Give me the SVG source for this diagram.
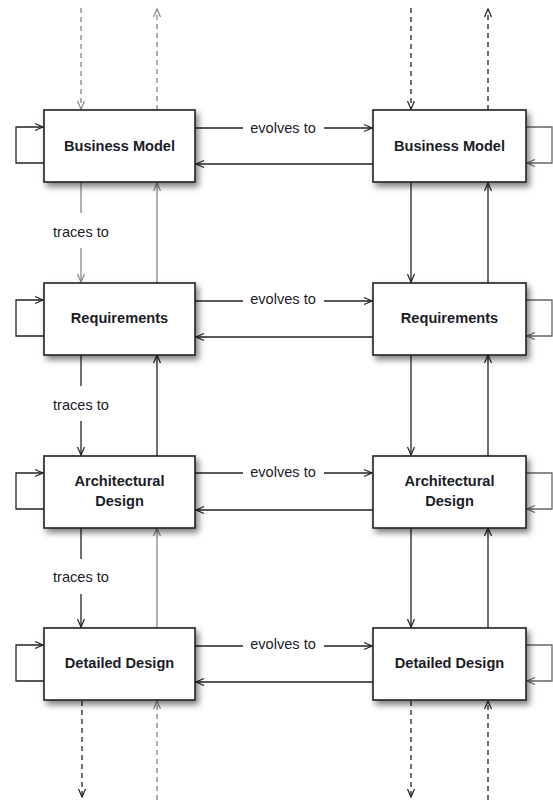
<svg xmlns="http://www.w3.org/2000/svg" width="553" height="800" viewBox="0 0 553 800">
  <style>
    .box { fill: #ffffff; stroke: #222222; stroke-width: 1.6; filter: url(#shadow); }
    .lbl { font-family: "Liberation Sans", Arial, sans-serif; font-size: 14.6px; font-weight: bold; fill: #1c1c28; text-anchor: middle; }
    .edge-lbl { font-family: "Liberation Sans", Arial, sans-serif; font-size: 14.6px; fill: #1c1c28; text-anchor: middle; }
    .dk { fill: none; stroke: #222222; stroke-width: 1.3; marker-end: url(#arrDk); }
    .gr { fill: none; stroke: #888888; stroke-width: 1.3; marker-end: url(#arrGr); }
    .md { fill: none; stroke: #666666; stroke-width: 1.3; marker-end: url(#arrMd); }
    .dkn { fill: none; stroke: #222222; stroke-width: 1.3; }
    .grn { fill: none; stroke: #888888; stroke-width: 1.3; }
    .dash { stroke-dasharray: 5 4; }
  </style>
  <defs>
    <filter id="shadow" x="-10%" y="-15%" width="125%" height="140%">
      <feDropShadow dx="3" dy="4" stdDeviation="3" flood-color="#000000" flood-opacity="0.5"/>
    </filter>
    <marker id="arrDk" markerUnits="userSpaceOnUse" markerWidth="12" markerHeight="12" refX="10" refY="6" orient="auto">
      <path d="M 2 2.5 L 10 6 L 2 9.5" fill="none" stroke="#222222" stroke-width="1.2"/>
    </marker>
    <marker id="arrGr" markerUnits="userSpaceOnUse" markerWidth="12" markerHeight="12" refX="10" refY="6" orient="auto">
      <path d="M 2 2.5 L 10 6 L 2 9.5" fill="none" stroke="#888888" stroke-width="1.2"/>
    </marker>
    <marker id="arrMd" markerUnits="userSpaceOnUse" markerWidth="12" markerHeight="12" refX="10" refY="6" orient="auto">
      <path d="M 2 2.5 L 10 6 L 2 9.5" fill="none" stroke="#666666" stroke-width="1.2"/>
    </marker>
  </defs>

  <g id="connectors">
    <!-- incoming / outgoing dashed flows at the top -->
    <path class="gr dash" d="M 81 8 V 109"/>
    <path class="gr dash" d="M 157 110 V 9"/>
    <path class="dk dash" d="M 411 8 V 109"/>
    <path class="dk dash" d="M 488 110 V 9"/>
    <!-- dashed flows at the bottom -->
    <path class="dk dash" d="M 82 701 V 797"/>
    <path class="gr dash" d="M 157 800 V 701"/>
    <path class="dk dash" d="M 411 701 V 797"/>
    <path class="dk dash" d="M 488 800 V 701"/>

    <!-- self loops, left column -->
    <path class="dk" d="M 44 163 H 16 V 127 H 43"/>
    <path class="dk" d="M 44 336 H 16 V 300 H 43"/>
    <path class="dk" d="M 44 509 H 16 V 473 H 43"/>
    <path class="dk" d="M 44 681 H 16 V 645 H 43"/>
    <!-- self loops, right column -->
    <path class="md" d="M 526 127 H 552 V 163 H 527"/>
    <path class="md" d="M 526 300 H 552 V 336 H 527"/>
    <path class="md" d="M 526 473 H 552 V 509 H 527"/>
    <path class="md" d="M 526 645 H 552 V 681 H 527"/>

    <!-- evolves to: left to right, and back -->
    <path class="dkn" d="M 195 128 H 243"/>
    <path class="dk" d="M 324 128 H 372"/>
    <path class="dk" d="M 373 164 H 196"/>
    <text class="edge-lbl" x="283" y="133">evolves to</text>

    <path class="dkn" d="M 195 301 H 243"/>
    <path class="dk" d="M 324 301 H 372"/>
    <path class="dk" d="M 373 337 H 196"/>
    <text class="edge-lbl" x="283" y="304">evolves to</text>

    <path class="dkn" d="M 195 473 H 243"/>
    <path class="dk" d="M 324 473 H 372"/>
    <path class="dk" d="M 373 510 H 196"/>
    <text class="edge-lbl" x="283" y="477">evolves to</text>

    <path class="dkn" d="M 195 646 H 243"/>
    <path class="dk" d="M 324 646 H 372"/>
    <path class="dk" d="M 373 682 H 196"/>
    <text class="edge-lbl" x="283" y="649">evolves to</text>

    <!-- traces to: left column downwards -->
    <path class="grn" d="M 81 182 V 213"/>
    <path class="gr" d="M 81 248 V 282"/>
    <text class="edge-lbl" x="81" y="237">traces to</text>

    <path class="dkn" d="M 81 355 V 386"/>
    <path class="dk" d="M 81 421 V 455"/>
    <text class="edge-lbl" x="81" y="410">traces to</text>

    <path class="dkn" d="M 81 528 V 559"/>
    <path class="dk" d="M 81 594 V 627"/>
    <text class="edge-lbl" x="81" y="582">traces to</text>

    <!-- left column upwards -->
    <path class="gr" d="M 157 283 V 183"/>
    <path class="dk" d="M 157 456 V 355"/>
    <path class="gr" d="M 157 628 V 528"/>

    <!-- right column down and up -->
    <path class="dk" d="M 411 182 V 282"/>
    <path class="dk" d="M 411 355 V 455"/>
    <path class="dk" d="M 411 528 V 627"/>
    <path class="dk" d="M 488 283 V 183"/>
    <path class="dk" d="M 488 456 V 355"/>
    <path class="dk" d="M 488 628 V 528"/>
  </g>

  <g id="bm-left">
    <rect class="box" x="44" y="110" width="151" height="72"/>
    <text class="lbl" x="119.5" y="150.5">Business Model</text>
  </g>
  <g id="bm-right">
    <rect class="box" x="373" y="110" width="153" height="72"/>
    <text class="lbl" x="449.5" y="150.5">Business Model</text>
  </g>
  <g id="req-left">
    <rect class="box" x="44" y="283" width="151" height="72"/>
    <text class="lbl" x="119.5" y="323">Requirements</text>
  </g>
  <g id="req-right">
    <rect class="box" x="373" y="283" width="153" height="72"/>
    <text class="lbl" x="449.5" y="323">Requirements</text>
  </g>
  <g id="arch-left">
    <rect class="box" x="44" y="456" width="151" height="72"/>
    <text class="lbl" x="119.5" y="486">Architectural</text>
    <text class="lbl" x="119.5" y="505.5">Design</text>
  </g>
  <g id="arch-right">
    <rect class="box" x="373" y="456" width="153" height="72"/>
    <text class="lbl" x="449.5" y="486">Architectural</text>
    <text class="lbl" x="449.5" y="505.5">Design</text>
  </g>
  <g id="dd-left">
    <rect class="box" x="44" y="628" width="151" height="72"/>
    <text class="lbl" x="119.5" y="668">Detailed Design</text>
  </g>
  <g id="dd-right">
    <rect class="box" x="373" y="628" width="153" height="72"/>
    <text class="lbl" x="449.5" y="668">Detailed Design</text>
  </g>
</svg>
